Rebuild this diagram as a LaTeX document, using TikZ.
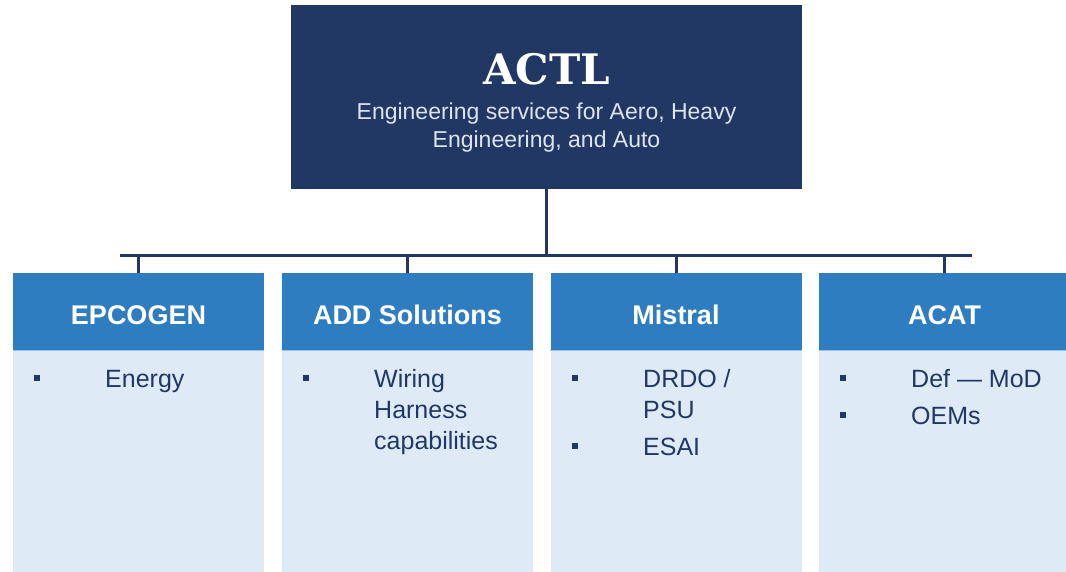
\documentclass[tikz,border=0pt]{standalone}
\usepackage{fontspec}
\setmainfont{Liberation Sans}
\newfontfamily\slabfont{DejaVu Serif}
\definecolor{navy}{HTML}{213864}
\definecolor{hdrblue}{HTML}{2E7DC0}
\definecolor{bodyblue}{HTML}{DEEAF6}
\definecolor{sepblue}{HTML}{9CC2E5}
\definecolor{subwhite}{HTML}{DCE4EE}
\tikzset{
  topbox/.style={fill=navy, draw=none, minimum width=511pt, minimum height=184pt, inner sep=0pt},
  hdrbox/.style={fill=hdrblue, draw=none, minimum width=251pt, minimum height=77pt, inner sep=0pt},
  bodybox/.style={fill=bodyblue, draw=none, minimum width=251pt, minimum height=222pt, inner sep=0pt, anchor=north},
  hdrtext/.style={anchor=base, inner sep=0pt, text=white, font=\fontsize{27}{32}\selectfont\bfseries},
  subtext/.style={anchor=base, inner sep=0pt, text=subwhite, font=\fontsize{23}{28}\selectfont},
  itemtext/.style={anchor=base west, inner sep=0pt, text=navy, font=\fontsize{25}{31}\selectfont},
  bulletsq/.style={fill=navy, draw=none, minimum size=6pt, inner sep=0pt},
  link/.style={draw=navy, line width=3pt},
}
\begin{document}
\begin{tikzpicture}[x=1pt, y=-1pt]
\useasboundingbox (0,0) rectangle (1066,572);
\clip (0,0) rectangle (1066,572);

% parent company
\node[topbox] (actl) at (546.5,97) {};
\node[anchor=base, inner sep=0pt, text=white, font=\slabfont\bfseries\fontsize{42}{48}\selectfont] (actltitle) at (546.5,85) {ACTL};
\node[subtext] (actlsub1) at (546.5,120) {Engineering services for Aero, Heavy};
\node[subtext] (actlsub2) at (546.5,148) {Engineering, and Auto};

% subsidiaries: header and body of each column
\foreach \n/\cx in {1/138.5, 2/407.5, 3/676, 4/944.5} {
  \node[bodybox] (body\n) at (\cx,350) {};
  \node[hdrbox] (hdr\n) at (\cx,311.5) {};
  \draw[sepblue, line width=1pt] (hdr\n.south west) -- (hdr\n.south east);
}
\node[hdrtext] (t1) at (138.5,324) {EPCOGEN};
\node[hdrtext] (t2) at (407.5,324) {ADD Solutions};
\node[hdrtext] (t3) at (676,324) {Mistral};
\node[hdrtext] (t4) at (944.5,324) {ACAT};

% connectors
\coordinate (busL) at (120,256);
\coordinate (busR) at (972,256);
\draw[link] (actl.south) -- (actl.south |- busL);
\draw[link] (busL) -- (busR);
\foreach \n in {1,2,3,4} {
  \draw[link] (hdr\n.north |- busL) -- (hdr\n.north);
}

% item lists
\node[bulletsq] (b11) at (37,378) {};
\node[itemtext] (i11) at (105,387) {Energy};

\node[bulletsq] (b21) at (306,378) {};
\node[itemtext] (i21a) at (374,387) {Wiring};
\node[itemtext] (i21b) at (374,418) {Harness};
\node[itemtext] (i21c) at (374,449) {capabilities};

\node[bulletsq] (b31) at (575,378) {};
\node[itemtext] (i31a) at (643,387) {DRDO /};
\node[itemtext] (i31b) at (643,418) {PSU};
\node[bulletsq] (b32) at (575,446) {};
\node[itemtext] (i32) at (643,455) {ESAI};

\node[bulletsq] (b41) at (843,378) {};
\node[itemtext] (i41) at (911,387) {Def — MoD};
\node[bulletsq] (b42) at (843,415) {};
\node[itemtext] (i42) at (911,424) {OEMs};
\end{tikzpicture}
\end{document}
